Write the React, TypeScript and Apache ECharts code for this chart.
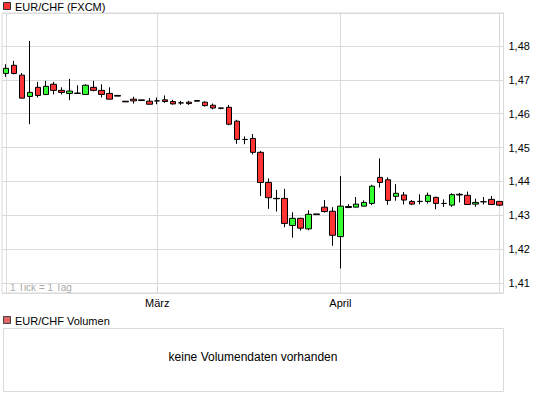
import React, { useEffect, useRef } from "react";
import * as echarts from "echarts";

const dates = [
  "2010-02-02", "2010-02-03", "2010-02-04", "2010-02-05",
  "2010-02-08", "2010-02-09", "2010-02-10", "2010-02-11", "2010-02-12",
  "2010-02-15", "2010-02-16", "2010-02-17", "2010-02-18", "2010-02-19",
  "2010-02-22", "2010-02-23", "2010-02-24", "2010-02-25", "2010-02-26",
  "2010-03-01", "2010-03-02", "2010-03-03", "2010-03-04", "2010-03-05",
  "2010-03-08", "2010-03-09", "2010-03-10", "2010-03-11", "2010-03-12",
  "2010-03-15", "2010-03-16", "2010-03-17", "2010-03-18", "2010-03-19",
  "2010-03-22", "2010-03-23", "2010-03-24", "2010-03-25", "2010-03-26",
  "2010-03-29", "2010-03-30", "2010-03-31",
  "2010-04-01", "2010-04-02",
  "2010-04-05", "2010-04-06", "2010-04-07", "2010-04-08", "2010-04-09",
  "2010-04-12", "2010-04-13", "2010-04-14", "2010-04-15", "2010-04-16",
  "2010-04-19", "2010-04-20", "2010-04-21", "2010-04-22", "2010-04-23",
  "2010-04-26", "2010-04-27", "2010-04-28", "2010-04-29",
];

const opens = [
  1.4719, 1.4743, 1.4714, 1.4651, 1.4678, 1.4657, 1.4687, 1.4669, 1.4660, 1.4661,
  1.4657, 1.4678, 1.4669, 1.4660, 1.4654, 1.4637, 1.4643, 1.4641, 1.4637, 1.4638,
  1.4641, 1.4636, 1.4632, 1.4634, 1.4639, 1.4634, 1.4625, 1.4617, 1.4619, 1.4578,
  1.4524, 1.4527, 1.4486, 1.4397, 1.4350, 1.4350, 1.4270, 1.4291, 1.4260, 1.4304,
  1.4324, 1.4312, 1.4237, 1.4323, 1.4324, 1.4327, 1.4335, 1.4412, 1.4405, 1.4356,
  1.4360, 1.4341, 1.4341, 1.4341, 1.4353, 1.4335, 1.4330, 1.4362, 1.4359, 1.4333,
  1.4340, 1.4347, 1.4341,
];
const closes = [
  1.4734, 1.4719, 1.4646, 1.4663, 1.4654, 1.4681, 1.4669, 1.4663, 1.4667, 1.4660,
  1.4684, 1.4669, 1.4657, 1.4643, 1.4652, 1.4635, 1.4638, 1.4639, 1.4628, 1.4638,
  1.4636, 1.4629, 1.4632, 1.4630, 1.4637, 1.4624, 1.4617, 1.4616, 1.4569, 1.4524,
  1.4524, 1.4486, 1.4397, 1.4352, 1.4349, 1.4276, 1.4291, 1.4262, 1.4303, 1.4302,
  1.4311, 1.4241, 1.4327, 1.4326, 1.4333, 1.4338, 1.4386, 1.4397, 1.4344, 1.4365,
  1.4345, 1.4333, 1.4341, 1.4359, 1.4335, 1.4335, 1.4361, 1.4360, 1.4332, 1.4338,
  1.4340, 1.4332, 1.4330,
];
const lows = [
  1.4709, 1.4716, 1.4646, 1.4569, 1.4648, 1.4655, 1.4657, 1.4657, 1.4640, 1.4658,
  1.4657, 1.4666, 1.4648, 1.4643, 1.4652, 1.4635, 1.4630, 1.4639, 1.4628, 1.4628,
  1.4632, 1.4627, 1.4626, 1.4626, 1.4637, 1.4621, 1.4613, 1.4613, 1.4566, 1.4511,
  1.4510, 1.4480, 1.4357, 1.4319, 1.4311, 1.4265, 1.4234, 1.4255, 1.4256, 1.4302,
  1.4308, 1.4210, 1.4143, 1.4321, 1.4324, 1.4327, 1.4330, 1.4382, 1.4331, 1.4343,
  1.4332, 1.4330, 1.4332, 1.4335, 1.4318, 1.4325, 1.4325, 1.4338, 1.4332, 1.4325,
  1.4332, 1.4330, 1.4327,
];
const highs = [
  1.4746, 1.4756, 1.4720, 1.4815, 1.4694, 1.4697, 1.4694, 1.4678, 1.4703, 1.4684,
  1.4687, 1.4697, 1.4687, 1.4678, 1.4654, 1.4637, 1.4650, 1.4641, 1.4646, 1.4648,
  1.4654, 1.4641, 1.4638, 1.4638, 1.4639, 1.4637, 1.4630, 1.4618, 1.4626, 1.4582,
  1.4533, 1.4540, 1.4490, 1.4409, 1.4375, 1.4378, 1.4309, 1.4293, 1.4315, 1.4304,
  1.4345, 1.4324, 1.4416, 1.4333, 1.4354, 1.4344, 1.4390, 1.4468, 1.4412, 1.4392,
  1.4369, 1.4345, 1.4362, 1.4367, 1.4355, 1.4347, 1.4365, 1.4366, 1.4370, 1.4349,
  1.4354, 1.4357, 1.4341,
];

const monthStarts = ["2010-03-01", "2010-04-01"];
const monthNames = ["März", "April"];
const rangeEdges = ["2010-02-02", "2010-04-29"];

const FONT = "'Liberation Sans', Arial, sans-serif";
const GRID_COLOR = "#dadada";

export default function App() {
  const ref = useRef<HTMLDivElement>(null);

  useEffect(() => {
    if (!ref.current) return;
    const chart = echarts.init(ref.current, undefined, { renderer: "svg" });
    const candles = dates.map((_, i) => [opens[i], closes[i], lows[i], highs[i]]);
    const vLines = [...rangeEdges, ...monthStarts].map((d) => ({ xAxis: d }));

    chart.setOption({
      animation: false,
      backgroundColor: "#ffffff",
      textStyle: { fontFamily: FONT },
      grid: {
        left: 2,
        right: 41.5,
        top: 13,
        bottom: 102,
        show: true,
        borderColor: GRID_COLOR,
        borderWidth: 1,
        backgroundColor: "transparent",
      },
      xAxis: {
        type: "category",
        data: dates,
        boundaryGap: true,
        axisLine: { show: false },
        axisTick: { show: false },
        splitLine: { show: false },
        axisLabel: {
          interval: (idx: number, val: string) => monthStarts.indexOf(val) >= 0,
          formatter: (val: string) => {
            const k = monthStarts.indexOf(val);
            return k >= 0 ? monthNames[k] : "";
          },
          color: "#000",
          fontSize: 11,
          fontFamily: FONT,
          margin: 4,
        },
      },
      yAxis: {
        type: "value",
        position: "right",
        min: 1.40705,
        max: 1.48975,
        splitNumber: 8,
        scale: true,
        axisLine: { show: false },
        axisTick: { show: false },
        splitLine: { show: true, lineStyle: { color: GRID_COLOR, width: 1 } },
        axisLabel: {
          showMinLabel: false,
          showMaxLabel: false,
          color: "#000",
          fontSize: 11,
          fontFamily: FONT,
          margin: 5,
          formatter: (v: number) => {
            const c = v * 100;
            if (Math.abs(c - Math.round(c)) > 1e-6) return "";
            return v.toFixed(2).replace(".", ",");
          },
        },
      },
      series: [
        {
          type: "line",
          data: [],
          z: 1,
          silent: true,
          markLine: {
            z: 1,
            silent: true,
            symbol: ["none", "none"],
            label: { show: false },
            lineStyle: { color: GRID_COLOR, type: "solid", width: 1 },
            data: vLines,
          },
        },
        {
          type: "candlestick",
          z: 10,
          data: candles,
          barWidth: 6,
          itemStyle: {
            color: "#33ff33",
            color0: "#ff3333",
            borderColor: "#000000",
            borderColor0: "#000000",
            borderColorDoji: "#000000",
            borderWidth: 1,
          },
        },
      ],
      graphic: [
        {
          type: "rect",
          shape: { x: 3.5, y: 2.5, width: 7, height: 7 },
          style: { fill: "#ff3333", stroke: "#333333", lineWidth: 1 },
        },
        {
          type: "text",
          x: 15,
          y: 6.5,
          style: {
            text: "EUR/CHF (FXCM)",
            fill: "#000",
            font: `11px ${FONT}`,
            verticalAlign: "middle",
          },
        },
        {
          type: "text",
          x: 10,
          y: 287,
          style: {
            text: "1 Tick = 1 Tag",
            fill: "#a8a8a8",
            font: `10px ${FONT}`,
            verticalAlign: "middle",
          },
        },
        {
          type: "rect",
          shape: { x: 3.5, y: 316.5, width: 7, height: 7 },
          style: { fill: "#e06666", stroke: "#444444", lineWidth: 1 },
        },
        {
          type: "text",
          x: 15,
          y: 320.5,
          style: {
            text: "EUR/CHF Volumen",
            fill: "#000",
            font: `11px ${FONT}`,
            verticalAlign: "middle",
          },
        },
        {
          type: "rect",
          shape: { x: 3.5, y: 328.5, width: 500, height: 63 },
          style: { fill: "none", stroke: GRID_COLOR, lineWidth: 1 },
        },
        {
          type: "text",
          x: 253,
          y: 357,
          style: {
            text: "keine Volumendaten vorhanden",
            fill: "#000",
            font: `12px ${FONT}`,
            align: "center",
            verticalAlign: "middle",
          },
        },
      ],
    });

    return () => chart.dispose();
  }, []);

  return (
    <div
      ref={ref}
      style={{ position: "fixed", left: 0, top: 0, width: 545, height: 395 }}
    />
  );
}
